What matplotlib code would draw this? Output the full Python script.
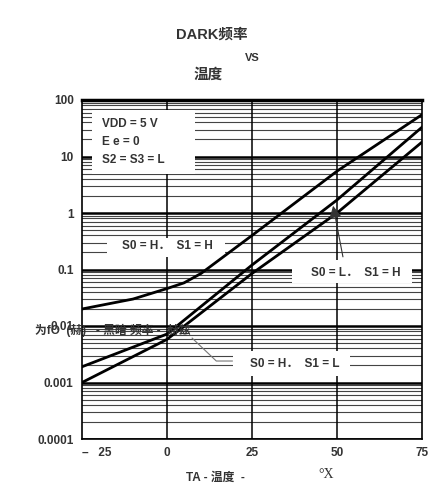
import matplotlib.pyplot as plt
import numpy as np
from matplotlib.patches import Rectangle

plt.rcParams['font.family'] = ['Liberation Sans', 'Noto Sans CJK SC']
plt.rcParams['font.weight'] = 'bold'

# Dark frequency (Hz) vs ambient temperature (deg C)
temp_hh = [-25, -10, 0, 5, 10, 25, 50, 75]
freq_hh = [0.02, 0.03, 0.046, 0.058, 0.085, 0.4, 5.5, 55]      # S0=H, S1=H

temp_lh = [-25, 0, 25, 50, 75]
freq_lh = [0.0019, 0.0072, 0.12, 1.7, 33]                       # S0=L, S1=H

temp_hl = [-25, 0, 25, 50, 75]
freq_hl = [0.001, 0.0058, 0.085, 1.0, 18]                       # S0=H, S1=L

x_ticks = [-25, 0, 25, 50, 75]
x_labels = ['–   25', '0', '25', '50', '75']
y_ticks = [1e-4, 1e-3, 1e-2, 1e-1, 1, 10, 100]
y_labels = ['0.0001', '0.001', '0.01', '0.1', '1', '10', '100']

fig = plt.figure(figsize=(4.34, 4.92), dpi=100)
ax = fig.add_axes([82/434, 1 - 439/492, 340/434, 339/492])
ax.set_yscale('log')
ax.set_xlim(-25, 75)
ax.set_ylim(1e-4, 100)

# grid: all minor log lines, decades heavier
for dec in range(-4, 2):
    for m in range(2, 10):
        ax.axhline(m * 10.0**dec, color='#444444', lw=0.8, zorder=1)
for v in y_ticks:
    ax.axhline(v, color='black', lw=1.8, zorder=1)
for xv in [0, 25, 50]:
    ax.axvline(xv, color='black', lw=1.1, zorder=1)

# white label boxes (axes coords)
boxes = [(0.029, 0.782, 0.303, 0.189),
         (0.074, 0.537, 0.347, 0.056),
         (0.618, 0.460, 0.353, 0.068),
         (0.444, 0.186, 0.344, 0.074)]
for bx, by, bw, bh in boxes:
    ax.add_patch(Rectangle((bx, by), bw, bh, transform=ax.transAxes,
                           facecolor='white', edgecolor='none', zorder=2))

ax.plot(temp_hh, freq_hh, color='black', lw=2, zorder=3)
ax.plot(temp_lh, freq_lh, color='black', lw=2, zorder=3)
ax.plot(temp_hl, freq_hl, color='black', lw=2, zorder=3)

for sp in ax.spines.values():
    sp.set_linewidth(1.2)
ax.spines['top'].set_linewidth(2.5)

ax.set_xticks(x_ticks)
ax.set_xticklabels(x_labels)
ax.set_yticks(y_ticks)
ax.set_yticklabels(y_labels)
ax.minorticks_off()
ax.tick_params(length=0, labelsize=8.5, labelcolor='#333333', pad=6)
ax.get_xticklabels()[0].set_ha('left')

# annotations
ax.text(0.06, 0.93, 'VDD = 5 V', transform=ax.transAxes, fontsize=8.5,
        color='#333333', va='center', zorder=4)
ax.text(0.06, 0.877, 'E e = 0', transform=ax.transAxes, fontsize=8.5,
        color='#333333', va='center', zorder=4)
ax.text(0.06, 0.824, 'S2 = S3 = L', transform=ax.transAxes, fontsize=8.5,
        color='#333333', va='center', zorder=4)

ax.text(0, 0.26, 'S0 = H．  S1 = H', fontsize=8.5, color='#333333',
        ha='center', va='center', zorder=4)
ax.text(55.5, 0.085, 'S0 = L．  S1 = H', fontsize=8.5, color='#333333',
        ha='center', va='center', zorder=4)
ax.text(37.5, 0.0021, 'S0 = H．  S1 = L', fontsize=8.5, color='#333333',
        ha='center', va='center', zorder=4)

ax.annotate('', xy=(48.7, 1.5), xytext=(51.9, 0.15),
            arrowprops=dict(arrowstyle='-|>,head_length=0.6,head_width=0.3',
                            color='#333333', lw=0.8, mutation_scale=12),
            zorder=4)
ax.plot([7.4, 14.5, 19.2], [0.0061, 0.0024, 0.0024], color='#777777',
        lw=0.8, zorder=4)

# titles and axis captions
fig.text(212/434, 1 - 35/492, 'DARK频率', ha='center', va='center',
         fontsize=10.5, color='#333333')
fig.text(252/434, 1 - 58/492, 'VS', ha='center', va='center',
         fontsize=8, color='#333333')
fig.text(208/434, 1 - 75/492, '温度', ha='center', va='center',
         fontsize=10.5, color='#333333')
fig.text(35/434, 1 - 330/492, '为fO  (赫)   - 黑暗 频率 -  赫兹', ha='left',
         va='center', fontsize=8.5, color='#333333')
fig.text(215/434, 1 - 478/492, 'TA - 温度  -', ha='center', va='center',
         fontsize=8.5, color='#333333')
fig.text(326/434, 1 - 475/492, '°X', ha='center', va='center',
         fontsize=10, color='#333333', family='Liberation Serif',
         fontweight='normal')

fig.savefig('out.png', dpi=100)
